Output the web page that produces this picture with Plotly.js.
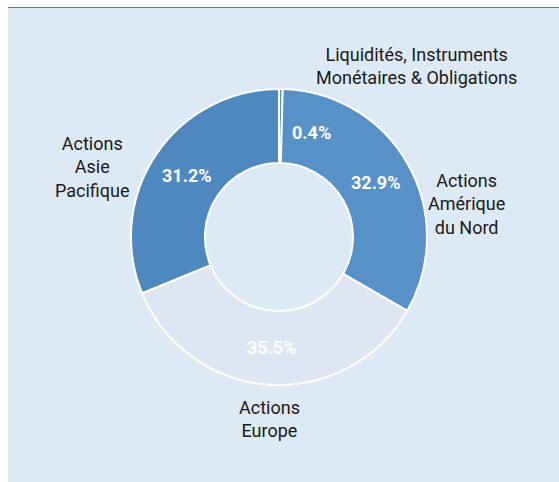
<!DOCTYPE html>
<html>
<head>
<meta charset="utf-8">
<script src="https://cdn.plot.ly/plotly-3.0.1.min.js"></script>
<style>
  html, body { margin: 0; padding: 0; background: #ffffff; }
  #panel { position: absolute; left: 8px; top: 7px; width: 551px; height: 475px; background: #dde9f5; border-top: 1px solid #4a7fd0; }
  #chart { position: absolute; left: 0; top: 0; width: 551px; height: 474px; }
</style>
</head>
<body>
<div id="panel"><div id="chart"></div></div>
<script>
const categories = [
  "Liquidités, Instruments<br>Monétaires & Obligations",
  "Actions<br>Amérique<br>du Nord",
  "Actions<br>Europe",
  "Actions<br>Asie<br>Pacifique"
];
const values = [0.4, 32.9, 35.5, 31.2];
const colors = ["#5791c8", "#5791c8", "#dfe6f3", "#4e88bf"];

const labelPos = [
  {x: 0.7405, y: 0.8776},
  {x: 0.833, y: 0.5865},
  {x: 0.4737, y: 0.1329},
  {x: 0.1525, y: 0.6646}
];
const smallPctPos = {x: 0.5517, y: 0.7363};

const total = values.reduce((a, b) => a + b, 0);
const annotations = categories.map((c, i) => ({
  text: c, x: labelPos[i].x, y: labelPos[i].y, xref: 'paper', yref: 'paper',
  xanchor: 'center', yanchor: 'middle', showarrow: false, align: 'center',
  font: {family: 'Roboto, sans-serif', size: 18, color: '#1a1a1a'}
}));
annotations.push({
  text: '<b>' + (values[0] / total * 100).toFixed(1) + '%</b>',
  x: smallPctPos.x, y: smallPctPos.y, xref: 'paper', yref: 'paper',
  xanchor: 'center', yanchor: 'middle', showarrow: false,
  font: {family: 'Roboto, sans-serif', size: 18, color: '#ffffff'}
});

const trace = {
  type: 'pie',
  labels: categories,
  values: values,
  hole: 0.5,
  sort: false,
  direction: 'clockwise',
  rotation: 0,
  marker: {colors: colors, line: {color: '#ffffff', width: 2}},
  texttemplate: '<b>%{percent:.1%}</b>',
  textposition: ['none', 'inside', 'inside', 'inside'],
  insidetextorientation: 'horizontal',
  textfont: {family: 'Roboto, sans-serif', size: 18, color: '#ffffff'},
  hoverinfo: 'none',
  showlegend: false,
  domain: {x: [0.2232, 0.7604], y: [0.2046, 0.8291]}
};

const layout = {
  width: 551, height: 474,
  margin: {l: 0, r: 0, t: 0, b: 0},
  paper_bgcolor: 'rgba(0,0,0,0)',
  plot_bgcolor: 'rgba(0,0,0,0)',
  showlegend: false,
  annotations: annotations
};

Plotly.newPlot('chart', [trace], layout, {displayModeBar: false, staticPlot: true});
</script>
</body>
</html>
